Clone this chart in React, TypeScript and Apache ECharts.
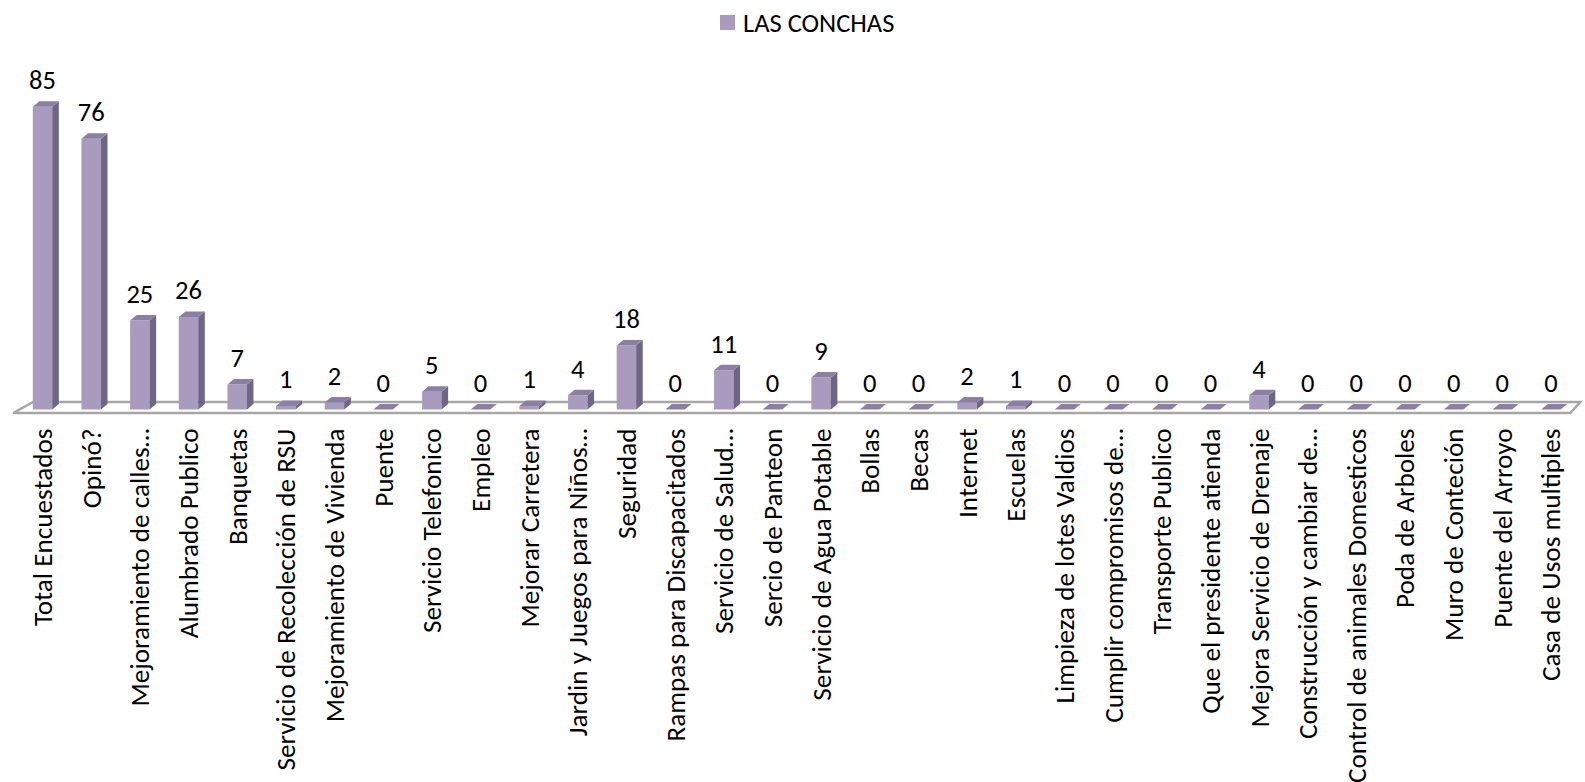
import React, { useEffect, useRef } from "react";
import * as echarts from "echarts";

const categories: string[] = [
  "Total Encuestados",
  "Opinó?",
  "Mejoramiento de calles…",
  "Alumbrado Publico",
  "Banquetas",
  "Servicio de Recolección de RSU",
  "Mejoramiento de Vivienda",
  "Puente",
  "Servicio Telefonico",
  "Empleo",
  "Mejorar Carretera",
  "Jardin y Juegos para Niños…",
  "Seguridad",
  "Rampas para Discapacitados",
  "Servicio de Salud…",
  "Sercio de Panteon",
  "Servicio de Agua Potable",
  "Bollas",
  "Becas",
  "Internet",
  "Escuelas",
  "Limpieza de lotes Valdios",
  "Cumplir compromisos de…",
  "Transporte Publico",
  "Que el presidente atienda",
  "Mejora Servicio de Drenaje",
  "Construcción y cambiar de…",
  "Control de animales Domesticos",
  "Poda de Arboles",
  "Muro de Conteción",
  "Puente del Arroyo",
  "Casa de Usos multiples",
];

const values: number[] = [
  85, 76, 25, 26, 7, 1, 2, 0, 5, 0, 1, 4, 18, 0, 11, 0, 9, 0, 0, 2, 1, 0, 0, 0, 0, 4, 0, 0, 0, 0, 0, 0,
];

const seriesName = "LAS CONCHAS";

const FONT = "Carlito, Calibri, Lato, sans-serif";
const FRONT = "#a99bbd";
const SIDE = "#6f6584";
const TOP = "#8b80a3";

export default function App() {
  const ref = useRef<HTMLDivElement>(null);

  useEffect(() => {
    if (!ref.current) return;
    const chart = echarts.init(ref.current, undefined, { renderer: "svg" });

    const renderBar = (params: any, api: any) => {
      const idx = api.value(0);
      const val = api.value(1);
      const top = api.coord([idx, val]);
      const base = api.coord([idx, 0]);
      const band = api.size([1, 0])[0];
      const w = band * 0.4;
      const dx = band * 0.135;
      const dy = -5.5;
      const cx = top[0];
      const x1 = cx - w / 2;
      const x2 = cx + w / 2;
      const ty = top[1];
      const by = base[1];
      const children: any[] = [];
      if (by - ty > 0.1) {
        children.push({
          type: "rect",
          shape: { x: x1, y: ty, width: w, height: by - ty },
          style: { fill: FRONT },
        });
        children.push({
          type: "polygon",
          shape: { points: [[x2, ty], [x2 + dx, ty + dy], [x2 + dx, by + dy], [x2, by]] },
          style: { fill: SIDE },
        });
      }
      children.push({
        type: "polygon",
        shape: { points: [[x1, ty], [x1 + dx, ty + dy], [x2 + dx, ty + dy], [x2, ty]] },
        style: { fill: TOP },
      });
      children.push({
        type: "text",
        style: {
          text: String(val),
          x: cx,
          y: ty - 13,
          align: "center",
          verticalAlign: "bottom",
          fontSize: 26.5,
          fontFamily: FONT,
          fill: "#000",
        },
      });
      return { type: "group", children };
    };

    const renderFloor = (params: any) => {
      const cs = params.coordSys;
      const x0 = cs.x;
      const x1 = cs.x + cs.width;
      const by = cs.y + cs.height;
      return {
        type: "polygon",
        shape: {
          points: [
            [x0 - 5, by + 3.5],
            [x1 - 5, by + 3.5],
            [x1 + 5, by - 7.5],
            [x0 + 15, by - 7.5],
          ],
        },
        style: { fill: "#ffffff", stroke: "#a6a6a6", lineWidth: 2.5 },
      };
    };

    chart.setOption({
      animation: false,
      backgroundColor: "#ffffff",
      legend: {
        data: [seriesName],
        left: 715,
        top: 4,
        icon: "rect",
        itemWidth: 15,
        itemHeight: 15,
        itemGap: 8,
        textStyle: { fontSize: 26.5, fontFamily: FONT, color: "#000", padding: [0, 0, 0, 3] },
      },
      grid: {
        left: 18.2,
        right: 9.7,
        top: 89,
        bottom: 372.5,
        containLabel: false,
        outerBoundsMode: "none",
      },
      xAxis: {
        type: "category",
        data: categories,
        axisLine: { show: false },
        axisTick: { show: false },
        axisLabel: {
          rotate: 90,
          interval: 0,
          margin: 19,
          fontSize: 27.2,
          fontFamily: FONT,
          color: "#000",
        },
      },
      yAxis: {
        type: "value",
        min: 0,
        max: 90,
        show: false,
        splitLine: { show: false },
      },
      series: [
        {
          type: "custom",
          name: "floor",
          silent: true,
          renderItem: renderFloor,
          data: [[0, 0]],
          z: 1,
        },
        {
          type: "custom",
          name: seriesName,
          renderItem: renderBar,
          itemStyle: { color: FRONT },
          encode: { x: 0, y: 1 },
          data: values.map((v, i) => [i, v]),
          z: 2,
        },
      ],
    });

    return () => chart.dispose();
  }, []);

  return (
    <div
      ref={ref}
      style={{ position: "fixed", left: 0, top: 0, width: 1585, height: 782, background: "#fff" }}
    />
  );
}
